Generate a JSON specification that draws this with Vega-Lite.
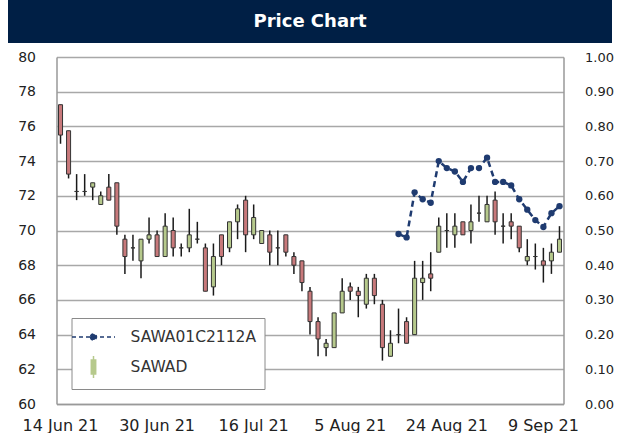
{
  "$schema": "https://vega.github.io/schema/vega-lite/v6.json",
  "padding": {"left": 8, "right": 6, "top": 0, "bottom": 0},
  "background": "white",
  "spacing": 14,
  "center": true,
  "bounds": "flush",
  "config": {"font": "DejaVu Sans", "view": {"stroke": null}},
  "resolve": {"scale": {"color": "independent"}, "legend": {"color": "independent"}},
  "data": {"values": [
    {"date": "14 Jun 21", "open": 77.25, "high": 77.25, "low": 75.0, "close": 75.5},
    {"date": "15 Jun 21", "open": 75.75, "high": 75.75, "low": 73.0, "close": 73.25},
    {"date": "16 Jun 21", "open": 72.25, "high": 73.25, "low": 71.75, "close": 72.25},
    {"date": "17 Jun 21", "open": 72.25, "high": 73.25, "low": 72.0, "close": 72.25},
    {"date": "18 Jun 21", "open": 72.5, "high": 72.75, "low": 71.75, "close": 72.75},
    {"date": "21 Jun 21", "open": 71.5, "high": 72.25, "low": 71.5, "close": 72.0},
    {"date": "22 Jun 21", "open": 72.5, "high": 73.25, "low": 71.75, "close": 71.75},
    {"date": "23 Jun 21", "open": 72.75, "high": 72.75, "low": 69.75, "close": 70.25},
    {"date": "24 Jun 21", "open": 69.5, "high": 69.75, "low": 67.5, "close": 68.5},
    {"date": "25 Jun 21", "open": 69.0, "high": 69.75, "low": 68.25, "close": 69.0},
    {"date": "28 Jun 21", "open": 68.25, "high": 69.5, "low": 67.25, "close": 69.5},
    {"date": "29 Jun 21", "open": 69.5, "high": 70.75, "low": 69.25, "close": 69.75},
    {"date": "30 Jun 21", "open": 69.75, "high": 70.0, "low": 68.5, "close": 68.5},
    {"date": "1 Jul 21", "open": 68.5, "high": 71.0, "low": 68.5, "close": 70.25},
    {"date": "2 Jul 21", "open": 70.0, "high": 70.75, "low": 68.5, "close": 69.0},
    {"date": "5 Jul 21", "open": 69.0, "high": 69.25, "low": 68.5, "close": 69.0},
    {"date": "6 Jul 21", "open": 69.0, "high": 71.25, "low": 68.75, "close": 69.75},
    {"date": "7 Jul 21", "open": 69.5, "high": 70.5, "low": 69.25, "close": 69.5},
    {"date": "8 Jul 21", "open": 69.0, "high": 69.25, "low": 66.5, "close": 66.5},
    {"date": "9 Jul 21", "open": 66.75, "high": 69.25, "low": 66.25, "close": 68.5},
    {"date": "12 Jul 21", "open": 69.75, "high": 69.75, "low": 68.0, "close": 68.5},
    {"date": "13 Jul 21", "open": 69.0, "high": 70.5, "low": 68.75, "close": 70.5},
    {"date": "14 Jul 21", "open": 70.5, "high": 71.5, "low": 69.5, "close": 71.25},
    {"date": "15 Jul 21", "open": 71.75, "high": 72.0, "low": 68.75, "close": 69.75},
    {"date": "16 Jul 21", "open": 69.75, "high": 71.5, "low": 69.5, "close": 70.75},
    {"date": "19 Jul 21", "open": 69.25, "high": 70.0, "low": 69.25, "close": 70.0},
    {"date": "20 Jul 21", "open": 69.75, "high": 70.0, "low": 68.0, "close": 68.75},
    {"date": "21 Jul 21", "open": 69.0, "high": 70.0, "low": 68.0, "close": 69.0},
    {"date": "22 Jul 21", "open": 69.75, "high": 69.75, "low": 68.5, "close": 68.75},
    {"date": "23 Jul 21", "open": 68.5, "high": 68.75, "low": 67.5, "close": 68.0},
    {"date": "27 Jul 21", "open": 68.25, "high": 68.25, "low": 66.5, "close": 67.0},
    {"date": "29 Jul 21", "open": 66.5, "high": 66.75, "low": 64.0, "close": 64.75},
    {"date": "30 Jul 21", "open": 64.75, "high": 65.0, "low": 62.75, "close": 63.75},
    {"date": "2 Aug 21", "open": 63.25, "high": 63.75, "low": 62.75, "close": 63.5},
    {"date": "3 Aug 21", "open": 63.25, "high": 65.25, "low": 63.25, "close": 65.25},
    {"date": "4 Aug 21", "open": 65.25, "high": 67.25, "low": 65.25, "close": 66.5},
    {"date": "5 Aug 21", "open": 66.75, "high": 67.0, "low": 66.0, "close": 66.5},
    {"date": "6 Aug 21", "open": 66.5, "high": 66.75, "low": 65.0, "close": 66.25},
    {"date": "9 Aug 21", "open": 65.75, "high": 67.5, "low": 65.5, "close": 67.25},
    {"date": "10 Aug 21", "open": 67.25, "high": 67.5, "low": 65.75, "close": 66.25},
    {"date": "11 Aug 21", "open": 65.75, "high": 66.0, "low": 62.5, "close": 63.25},
    {"date": "13 Aug 21", "open": 62.75, "high": 64.25, "low": 62.75, "close": 63.5},
    {"date": "16 Aug 21", "open": 64.0, "high": 65.5, "low": 63.5, "close": 64.0, "dw": 0.49},
    {"date": "17 Aug 21", "open": 64.75, "high": 65.0, "low": 63.5, "close": 63.5, "dw": 0.48},
    {"date": "18 Aug 21", "open": 64.0, "high": 68.25, "low": 64.0, "close": 67.25, "dw": 0.61},
    {"date": "19 Aug 21", "open": 67.0, "high": 68.25, "low": 66.0, "close": 67.25, "dw": 0.59},
    {"date": "20 Aug 21", "open": 67.5, "high": 68.75, "low": 66.5, "close": 67.25, "dw": 0.58},
    {"date": "23 Aug 21", "open": 68.75, "high": 70.75, "low": 68.75, "close": 70.25, "dw": 0.70},
    {"date": "24 Aug 21", "open": 70.0, "high": 71.0, "low": 69.0, "close": 70.0, "dw": 0.68},
    {"date": "25 Aug 21", "open": 69.75, "high": 71.0, "low": 69.0, "close": 70.25, "dw": 0.67},
    {"date": "26 Aug 21", "open": 70.5, "high": 70.5, "low": 69.75, "close": 69.75, "dw": 0.64},
    {"date": "27 Aug 21", "open": 70.0, "high": 71.5, "low": 69.25, "close": 70.5, "dw": 0.68},
    {"date": "30 Aug 21", "open": 71.0, "high": 72.0, "low": 70.5, "close": 71.0, "dw": 0.68},
    {"date": "31 Aug 21", "open": 70.5, "high": 72.0, "low": 70.5, "close": 71.5, "dw": 0.71},
    {"date": "1 Sep 21", "open": 71.75, "high": 72.25, "low": 69.75, "close": 70.5, "dw": 0.64},
    {"date": "2 Sep 21", "open": 70.25, "high": 71.0, "low": 69.25, "close": 70.25, "dw": 0.64},
    {"date": "3 Sep 21", "open": 70.5, "high": 71.0, "low": 69.5, "close": 70.25, "dw": 0.63},
    {"date": "6 Sep 21", "open": 70.25, "high": 70.25, "low": 68.75, "close": 69.0, "dw": 0.59},
    {"date": "7 Sep 21", "open": 68.25, "high": 69.5, "low": 68.0, "close": 68.5, "dw": 0.56},
    {"date": "8 Sep 21", "open": 68.5, "high": 69.25, "low": 67.75, "close": 68.5, "dw": 0.53},
    {"date": "9 Sep 21", "open": 68.25, "high": 69.0, "low": 67.0, "close": 68.0, "dw": 0.51},
    {"date": "10 Sep 21", "open": 68.25, "high": 69.25, "low": 67.5, "close": 68.75, "dw": 0.55},
    {"date": "13 Sep 21", "open": 68.75, "high": 70.25, "low": 68.75, "close": 69.5, "dw": 0.57}
  ]},
  "vconcat": [
    {
      "width": 604,
      "height": 43,
      "view": {"fill": "#001f45", "stroke": null},
      "data": {"values": [{"title": "Price Chart"}]},
      "mark": {"type": "text", "color": "white", "fontSize": 18, "fontWeight": "bold", "align": "center", "baseline": "middle"},
      "encoding": {"text": {"field": "title"}}
    },
    {
      "width": 507,
      "height": 347,
      "encoding": {
        "x": {
          "field": "date", "type": "ordinal", "sort": null,
          "scale": {"paddingInner": 0, "paddingOuter": 0},
          "axis": {
            "title": null, "labelAngle": 0, "ticks": false, "grid": false,
            "values": ["14 Jun 21", "30 Jun 21", "16 Jul 21", "5 Aug 21", "24 Aug 21", "9 Sep 21"],
            "domainColor": "#999999", "domainWidth": 1.5,
            "labelFontSize": 16, "labelColor": "#222222", "labelPadding": 13
          }
        }
      },
      "layer": [
        {
          "encoding": {
            "y": {
              "field": "low", "type": "quantitative",
              "scale": {"domain": [60, 80], "nice": false, "zero": false},
              "axis": {
                "title": null, "orient": "left", "values": [60, 62, 64, 66, 68, 70, 72, 74, 76, 78, 80],
                "grid": true, "gridColor": "#a8a8a8", "gridWidth": 1.5, "ticks": false,
                "domainColor": "#999999", "domainWidth": 1.5,
                "labelFontSize": 14, "labelColor": "#222222", "labelPadding": 21
              }
            }
          },
          "layer": [
            {
              "mark": {"type": "rule", "color": "#1a1a1a", "strokeWidth": 1.5},
              "encoding": {"y2": {"field": "high"}}
            },
            {
              "mark": {"type": "bar", "width": {"band": 0.5}, "stroke": "#333333", "strokeWidth": 1},
              "encoding": {
                "y": {"field": "open", "type": "quantitative"},
                "y2": {"field": "close"},
                "fill": {"condition": {"test": "datum.close >= datum.open", "value": "#b6c98c"}, "value": "#c8797b"}
              }
            }
          ]
        },
        {
          "encoding": {
            "y": {
              "field": "dw", "type": "quantitative",
              "scale": {"domain": [0, 1], "nice": false, "zero": false},
              "axis": {
                "title": null, "orient": "right", "values": [0, 0.1, 0.2, 0.3, 0.4, 0.5, 0.6, 0.7, 0.8, 0.9, 1],
                "format": ".2f", "grid": false, "ticks": false,
                "domainColor": "#999999", "domainWidth": 1.5,
                "labelFontSize": 13, "labelColor": "#222222", "labelPadding": 21
              }
            },
            "color": {
              "datum": "SAWA01C2112A",
              "scale": {"domain": ["SAWA01C2112A", "SAWAD"], "range": ["#1f3b70", "#b6c98c"]},
              "legend": {
                "title": null, "orient": "bottom-left", "offset": 15,
                "fillColor": "white", "strokeColor": "#8a8a8a", "padding": 8,
                "symbolSize": 400, "symbolOffset": 3, "labelOffset": 26, "labelFontSize": 15.5, "labelColor": "#333333",
                "rowPadding": 7, "symbolStrokeWidth": 1.5,
                "encode": {
                  "symbols": {
                    "update": {
                      "shape": {"signal": "datum.value === 'SAWAD' ? 'M0,-1.1L0,-0.7M0,0.7L0,1.1M-0.22,-0.7L0.22,-0.7L0.22,0.7L-0.22,0.7Z' : 'M-2.15,0L2.15,0M-0.3,0A0.3,0.3 0 1,0 0.3,0A0.3,0.3 0 1,0 -0.3,0Z'"},
                      "fill": {"signal": "datum.value === 'SAWAD' ? '#b6c98c' : '#1f3b70'"},
                      "stroke": {"signal": "datum.value === 'SAWAD' ? '#8c8c8c' : '#1f3b70'"},
                      "strokeDash": {"signal": "datum.value === 'SAWAD' ? [1, 0] : [4, 3]"},
                      "strokeWidth": {"value": 1.5},
                      "opacity": {"value": 1}
                    }
                  }
                }
              }
            }
          },
          "layer": [
            {"mark": {"type": "line", "strokeDash": [6, 4], "strokeWidth": 2.5}, "encoding": {}},
            {"mark": {"type": "point", "filled": true, "size": 40, "opacity": 1}, "encoding": {}}
          ]
        }
      ],
      "resolve": {"scale": {"y": "independent"}}
    }
  ]
}
